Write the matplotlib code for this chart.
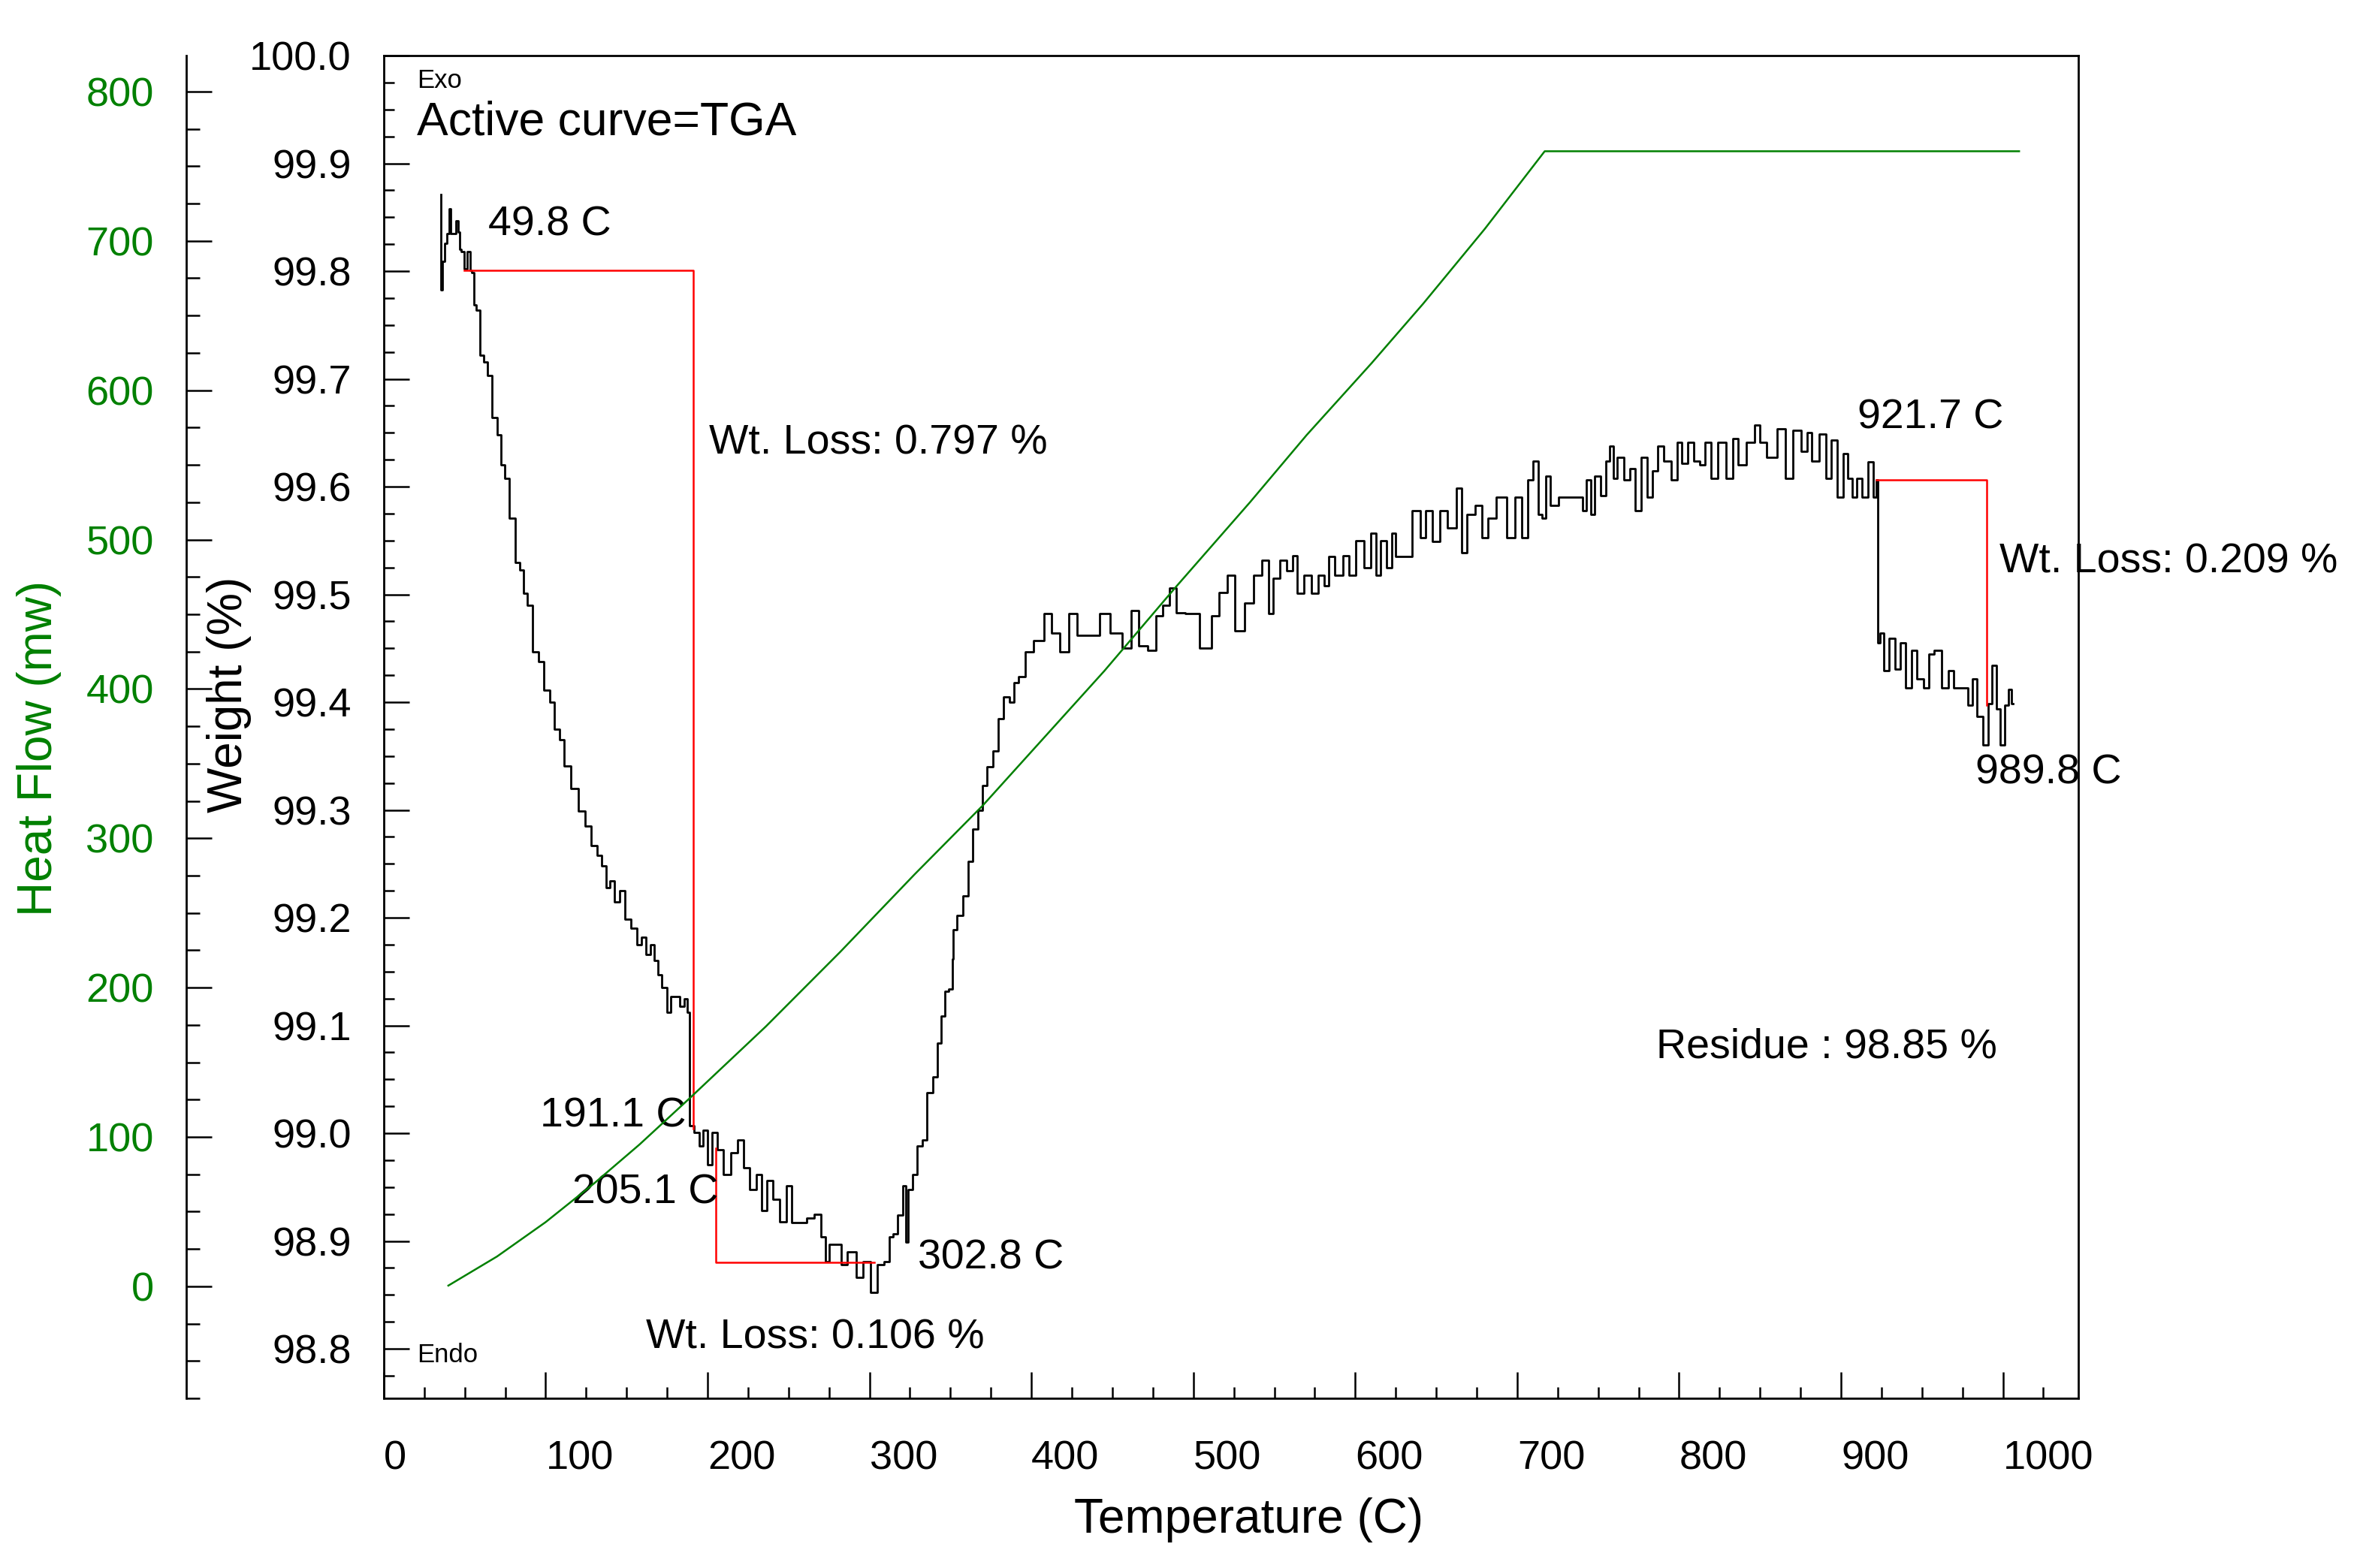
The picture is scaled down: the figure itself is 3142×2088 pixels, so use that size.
import matplotlib
matplotlib.use("Agg")
import matplotlib.pyplot as plt
from matplotlib.ticker import MultipleLocator, FormatStrFormatter

plt.rcParams['font.family'] = ['Liberation Sans', 'DejaVu Sans']

# TGA weight curve (temperature C, weight %)
tga_temp = [
    35.3, 35.6, 37.2, 38.4, 39.9, 40.7, 41.7, 44.0, 45.3, 46.5, 46.9, 49.1, 50.0,
    52.9, 53.8, 55.3, 56.1, 58.4, 60.8, 63.0, 65.4, 68.6, 71.4, 73.2, 76.1, 79.3,
    83.0, 85.0, 87.7, 90.0, 94.0, 97.0, 101.0, 104.0, 107.1, 110.0, 113.2, 118.0,
    122.5, 126.0, 130.3, 133.0, 136.4, 138.0, 141.0, 144.0, 147.0, 150.7, 155.0,
    158.0, 160.5, 163.0, 166.0, 168.0, 170.7, 173.0, 176.7, 178.0, 181.4, 184.0,
    186.9, 188.3, 189.8,
    193.9, 196.2, 198.5, 201.4, 204.5, 207.6, 212.3, 216.0, 220.8, 224.0, 227.7,
    232.4, 234.7, 238.5, 242.4, 246.3, 250.9, 253.2, 258.6, 263.4, 268.0, 271.8,
    274.1, 276.4, 281.8, 283.4, 289.4, 294.1, 298.1, 303.4, 306.4, 312.0, 312.8,
    315.9, 319.0, 322.0, 322.8, 325.1, 328.3, 330.6, 334.4, 336.7, 341.4, 342.8,
    346.0, 347.6, 350.6,
    351.6, 352.0, 356.0, 359.2, 362.3, 365.4, 368.4, 370.7, 374.7, 377.6, 381.6,
    383.9, 388.6, 390.1,
    394.0, 398.4, 404.5, 411.0, 413.8, 421.1, 425.3, 431.4, 439.7, 444.9, 452.2,
    459.6, 463.4, 468.9, 475.0, 479.1, 483.3, 487.5, 491.6, 498.7, 509.2, 513.4,
    518.6, 523.8, 527.8, 535.1, 538.9, 545.3, 547.3, 551.4, 555.6, 559.8, 563.1,
    565.0, 571.3, 574.3, 579.5, 582.5, 584.8, 590.0, 595.1, 597.0, 603.4, 607.6,
    611.9, 613.8, 617.9, 621.1, 624.0, 626.2, 631.4, 638.6, 641.6, 645.6, 649.8,
    654.9, 659.0, 665.7, 665.9, 671.7, 676.9, 679.9, 684.1, 690.4, 696.8, 700.8,
    705.0, 707.8, 712.0, 714.2,
    716.5, 718.5, 722.6, 728.7, 739.3, 741.3, 744.4, 746.4, 749.6, 753.7, 755.6,
    758.8, 759.9, 764.0, 768.2, 771.3, 774.5, 778.7, 781.6, 785.7, 788.0, 793.1,
    797.3, 800.1, 803.3, 807.5, 810.6, 814.8, 817.7, 821.7, 826.0, 832.3, 834.2,
    838.5, 844.8, 848.9, 851.1, 857.2, 863.6, 867.5, 872.9, 878.0, 880.1, 884.1,
    889.3, 892.5, 895.6, 899.8, 902.7, 905.8, 908.2, 911.0, 915.1, 918.2, 921.4,
    922.5, 922.6, 925.5, 927.5, 931.8, 935.0, 938.0, 942.0, 945.3, 948.5, 953.7,
    954.6, 960.6, 963.8, 968.9, 970.0, 977.3, 979.5, 982.4, 985.6, 989.8, 991.7,
    994.8, 996.9, 1000.0, 1002.3, 1004.3, 1006.3,
]
tga_weight = [
    99.871, 99.783, 99.809, 99.826, 99.835, 99.858, 99.835, 99.835, 99.847, 99.836,
    99.820, 99.818, 99.802, 99.818, 99.801, 99.799, 99.769, 99.764, 99.722, 99.716,
    99.703, 99.664, 99.648, 99.620, 99.608, 99.571, 99.530, 99.523, 99.501, 99.490,
    99.447, 99.438, 99.411, 99.400, 99.375, 99.365, 99.341, 99.320, 99.299, 99.285,
    99.267, 99.258, 99.248, 99.228, 99.234, 99.215, 99.225, 99.199, 99.190, 99.175,
    99.182, 99.166, 99.175, 99.160, 99.147, 99.135, 99.112, 99.127, 99.127, 99.118,
    99.125, 99.112, 99.007,
    99.001, 98.988, 99.003, 98.971, 99.001, 98.985, 98.962, 98.982, 98.994, 98.968,
    98.948, 98.962, 98.928, 98.956, 98.939, 98.918, 98.951, 98.917, 98.917, 98.921,
    98.925, 98.904, 98.881, 98.897, 98.897, 98.878, 98.890, 98.866, 98.881, 98.852,
    98.878, 98.881, 98.904, 98.907, 98.924, 98.951, 98.899, 98.948, 98.962, 98.988,
    98.994, 99.038, 99.052, 99.084, 99.109, 99.132, 99.134,
    99.162, 99.189, 99.202, 99.220, 99.252, 99.282, 99.300, 99.323, 99.340, 99.355,
    99.385, 99.405, 99.400, 99.418,
    99.424, 99.447, 99.457, 99.482, 99.464, 99.447, 99.482, 99.462, 99.462, 99.482,
    99.464, 99.450, 99.485, 99.452, 99.448, 99.480, 99.490, 99.506, 99.483, 99.482,
    99.450, 99.480, 99.502, 99.518, 99.466, 99.492, 99.518, 99.532, 99.482, 99.515,
    99.532, 99.522, 99.536, 99.501, 99.518, 99.501, 99.518, 99.508, 99.535, 99.518,
    99.536, 99.518, 99.550, 99.525, 99.557, 99.518, 99.550, 99.525, 99.557, 99.535,
    99.535, 99.578, 99.553, 99.578, 99.549, 99.578, 99.562, 99.599, 99.539, 99.574,
    99.583, 99.553, 99.571, 99.590, 99.553, 99.590, 99.553, 99.606, 99.624, 99.574,
    99.571, 99.610, 99.583, 99.590, 99.590, 99.578, 99.606, 99.574, 99.610, 99.592,
    99.624, 99.638, 99.608, 99.627, 99.606, 99.617, 99.578, 99.627, 99.590, 99.615,
    99.638, 99.624, 99.606, 99.641, 99.622, 99.641, 99.624, 99.620, 99.641, 99.608,
    99.641, 99.608, 99.645, 99.620, 99.641, 99.657, 99.641, 99.627, 99.654, 99.608,
    99.652, 99.633, 99.650, 99.624, 99.649, 99.608, 99.643, 99.590, 99.631, 99.608,
    99.590, 99.608, 99.590, 99.623, 99.590, 99.606, 99.455, 99.464, 99.429, 99.459,
    99.431, 99.455, 99.413, 99.448, 99.422, 99.413, 99.445, 99.448, 99.413, 99.429,
    99.413, 99.413, 99.397, 99.422, 99.387, 99.360, 99.399, 99.434, 99.394, 99.360,
    99.397, 99.412, 99.399,
]

# heat flow curve (mw)
hf_temp = [39.9, 70, 100, 130, 158, 189, 236, 282, 328, 370, 400, 445, 489, 535,
           570, 610, 642, 680, 717, 1010]
hf_value = [0.5, 20, 43, 69, 95, 126, 174, 224, 276, 322, 358, 412, 468, 525,
            570, 618, 658, 708, 760, 760]

# weight loss step markers
step1_temp = [49.8, 191.1, 191.1]
step1_weight = [99.801, 99.801, 99.004]
step2_temp = [205.1, 205.1, 302.8]
step2_weight = [98.986, 98.880, 98.880]
step3_temp = [921.7, 989.8, 989.8]
step3_weight = [99.606, 99.606, 99.397]

green = '#008000'

fig = plt.figure(figsize=(15.71, 10.44), dpi=200)
ax = fig.add_axes([0.1626, 0.1082, 0.7180, 0.8563])

# the instrument trace is drawn as a staircase
ax.plot(tga_temp, tga_weight, color='black', lw=1.0, drawstyle='steps-mid',
        zorder=3)
for xs, ys in [(step1_temp, step1_weight), (step2_temp, step2_weight),
               (step3_temp, step3_weight)]:
    ax.plot(xs, ys, color='red', lw=0.9, zorder=4)

ax.set_xlim(0, 1046.5)
ax.set_ylim(98.754, 100.0)

ax.xaxis.set_major_locator(MultipleLocator(100))
ax.xaxis.set_minor_locator(MultipleLocator(25))
ax.yaxis.set_major_locator(MultipleLocator(0.1))
ax.yaxis.set_minor_locator(MultipleLocator(0.025))
ax.yaxis.set_major_formatter(FormatStrFormatter('%.1f'))

ax.tick_params(axis='both', which='both', direction='in', width=0.9,
               top=False, right=False, labelsize=19.5)
ax.tick_params(axis='x', which='major', length=12.5, pad=20)
ax.tick_params(axis='x', which='minor', length=5.5)
ax.tick_params(axis='y', which='major', length=12.2, pad=15.5)
ax.tick_params(axis='y', which='minor', length=5)
for lab in ax.get_xticklabels():
    lab.set_horizontalalignment('left')

for sp in ax.spines.values():
    sp.set_linewidth(1.0)

ax.set_xlabel('Temperature (C)', fontsize=23, va='center')
ax.xaxis.set_label_coords(0.5106, -0.0906)
ax.set_ylabel('Weight (%)', fontsize=23, va='center')
ax.yaxis.set_label_coords(-0.0913, 0.524)

# heat flow on a second axis, spine moved out to the left
ax2 = ax.twinx()
ax2.plot(hf_temp, hf_value, color=green, lw=0.9)
ax2.set_ylim(-75, 824)
ax2.spines['left'].set_position(('axes', -0.1166))
ax2.spines['left'].set_visible(True)
ax2.spines['left'].set_linewidth(1.0)
for side in ['right', 'top', 'bottom']:
    ax2.spines[side].set_visible(False)
ax2.yaxis.set_ticks_position('left')
ax2.yaxis.set_label_position('left')
ax2.yaxis.set_major_locator(MultipleLocator(100))
ax2.yaxis.set_minor_locator(MultipleLocator(25))
ax2.tick_params(axis='y', which='both', direction='in', width=0.9,
                labelsize=19.5, labelcolor=green, color='black')
ax2.tick_params(axis='y', which='major', length=12.2, pad=15.5)
ax2.tick_params(axis='y', which='minor', length=6.5)
ax2.set_ylabel('Heat Flow (mw)', fontsize=23, color=green, va='center')
ax2.yaxis.set_label_coords(-0.2035, 0.484)

# annotations
txt = dict(ha='left', va='center', fontsize=20, zorder=5)
ax.text(20.4, 99.977, 'Exo', ha='left', va='center', fontsize=12.5)
ax.text(20.4, 99.938, 'Active curve=TGA', ha='left', va='center', fontsize=22.5)
ax.text(20.4, 98.794, 'Endo', ha='left', va='center', fontsize=12.5)
ax.text(64.5, 99.843, '49.8 C', **txt)
ax.text(200.8, 99.640, 'Wt. Loss: 0.797 %', **txt)
ax.text(910, 99.664, '921.7 C', **txt)
ax.text(998, 99.530, 'Wt. Loss: 0.209 %', **txt)
ax.text(983, 99.334, '989.8 C', **txt)
ax.text(786, 99.080, 'Residue : 98.85 %', **txt)
ax.text(96.5, 99.016, '191.1 C', **txt)
ax.text(116.4, 98.945, '205.1 C', **txt)
ax.text(329.8, 98.884, '302.8 C', **txt)
ax.text(161.9, 98.810, 'Wt. Loss: 0.106 %', **txt)

fig.savefig('out.png', dpi=200)
